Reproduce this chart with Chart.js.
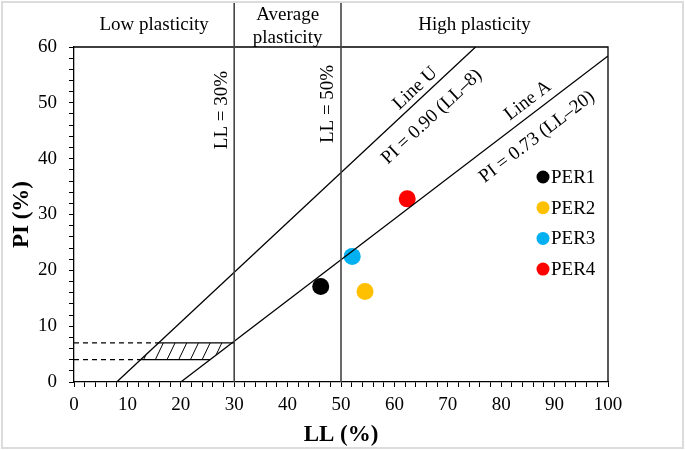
<!DOCTYPE html>
<html>
<head>
<meta charset="UTF-8">
<title>Plasticity chart</title>
<script src="https://cdn.jsdelivr.net/npm/chart.js"></script>
<style>
  body { margin: 0; background: #fff; }
  .chartBox { width: 685px; height: 450px; position: relative; }
</style>
</head>
<body>
<div class="chartBox">
  <canvas id="myChart" width="685" height="450"></canvas>
</div>
<script>
// ---------------- data ----------------
const samples = ['PER1', 'PER2', 'PER3', 'PER4'];
const sampleLL = [46.2, 54.5, 52.1, 62.4];
const samplePI = [17.1, 16.2, 22.5, 32.8];
const sampleColors = ['#000000', '#ffc000', '#00b0f0', '#ff0000'];

// Casagrande lines (end points)
const lineU_LL = [8, 75.2];
const lineU_PI = [0, 60];
const lineA_LL = [20, 100];
const lineA_PI = [0, 58.4];

// CL-ML band (PI 4 - 7)
const bandU_LL = [12.4, 15.8];   // where U line crosses PI 4 / 7
const bandA_LL = [25.5, 30];     // right end of the band lines
const bandA_LLtrue = [25.5, 29.6];

const limitLL = [30, 50];
const zoneNames = [['Low plasticity'], ['Average', 'plasticity'], ['High plasticity']];
const zoneCenterLL = [15, 40, 75];

const xTicks = [0, 10, 20, 30, 40, 50, 60, 70, 80, 90, 100];
const yTicks = [0, 10, 20, 30, 40, 50, 60];

const serif = "'Liberation Serif', 'Times New Roman', serif";

function seg(xs, ys) {
  return xs.map((x, i) => ({ x: x, y: ys[i] }));
}

const lineStyle = { showLine: true, borderColor: '#000', borderWidth: 1.3, pointRadius: 0, fill: false };

const datasets = [
  Object.assign({ label: 'U', data: seg(lineU_LL, lineU_PI) }, lineStyle),
  Object.assign({ label: 'A', data: seg(lineA_LL, lineA_PI) }, lineStyle),
  Object.assign({ label: 'b4', data: seg([bandU_LL[0], bandA_LL[0]], [4, 4]) }, lineStyle),
  Object.assign({ label: 'b7', data: seg([bandU_LL[1], bandA_LL[1]], [7, 7]) }, lineStyle),
  Object.assign({ label: 'd4', data: seg([0, bandU_LL[0]], [4, 4]), borderDash: [5, 4] }, lineStyle),
  Object.assign({ label: 'd7', data: seg([0, bandU_LL[1]], [7, 7]), borderDash: [5, 4] }, lineStyle)
];
samples.forEach((s, i) => {
  datasets.push({
    label: s,
    data: [{ x: sampleLL[i], y: samplePI[i] }],
    pointRadius: 8.5,
    pointHoverRadius: 8.5,
    backgroundColor: sampleColors[i],
    borderColor: sampleColors[i],
    borderWidth: 0
  });
});

// ---------------- extras plugin ----------------
const extras = {
  id: 'extras',
  beforeDatasetsDraw(chart) {
    const ctx = chart.ctx, x = chart.scales.x, y = chart.scales.y;
    // hatch the band between U and A lines
    ctx.save();
    ctx.beginPath();
    ctx.moveTo(x.getPixelForValue(bandU_LL[0]), y.getPixelForValue(4));
    ctx.lineTo(x.getPixelForValue(bandA_LLtrue[0]), y.getPixelForValue(4));
    ctx.lineTo(x.getPixelForValue(bandA_LLtrue[1]), y.getPixelForValue(7));
    ctx.lineTo(x.getPixelForValue(bandU_LL[1]), y.getPixelForValue(7));
    ctx.closePath();
    ctx.clip();
    ctx.strokeStyle = '#000';
    ctx.lineWidth = 1;
    const yb = y.getPixelForValue(4), yt = y.getPixelForValue(7);
    const h = yb - yt;
    for (let px = x.getPixelForValue(bandU_LL[0]) - 20; px < x.getPixelForValue(bandA_LL[1]) + 5; px += 11.7) {
      ctx.beginPath();
      ctx.moveTo(px, yb);
      ctx.lineTo(px + h * 0.48, yt);
      ctx.stroke();
    }
    ctx.restore();
  },
  afterDatasetsDraw(chart) {
    const ctx = chart.ctx, x = chart.scales.x, y = chart.scales.y, a = chart.chartArea;
    ctx.save();
    // outer frame
    ctx.strokeStyle = '#dcdcdc';
    ctx.lineWidth = 2;
    ctx.strokeRect(2, 2, chart.width - 4, chart.height - 4);
    // plot frame top and right
    ctx.strokeStyle = '#000';
    ctx.lineWidth = 1.3;
    ctx.beginPath();
    ctx.moveTo(a.left, a.top);
    ctx.lineTo(a.right, a.top);
    ctx.lineTo(a.right, a.bottom);
    ctx.stroke();
    // LL limit lines, up into the header
    ctx.strokeStyle = '#444';
    ctx.lineWidth = 1.6;
    limitLL.forEach(v => {
      const px = x.getPixelForValue(v);
      ctx.beginPath();
      ctx.moveTo(px, 3);
      ctx.lineTo(px, a.bottom);
      ctx.stroke();
    });
    // header zone names
    ctx.fillStyle = '#000';
    ctx.font = '19px ' + serif;
    ctx.textAlign = 'center';
    ctx.textBaseline = 'middle';
    zoneNames.forEach((lines, i) => {
      const px = x.getPixelForValue(zoneCenterLL[i]);
      if (lines.length === 1) ctx.fillText(lines[0], px, 25);
      else { ctx.fillText(lines[0], px, 15); ctx.fillText(lines[1], px, 38); }
    });
    // rotated labels
    function rotText(txt, lx, ly, ang) {
      ctx.save();
      ctx.translate(x.getPixelForValue(lx), y.getPixelForValue(ly));
      ctx.rotate(ang);
      ctx.fillText(txt, 0, 0);
      ctx.restore();
    }
    function lineAngle(xs, ys) {
      const dx = x.getPixelForValue(xs[1]) - x.getPixelForValue(xs[0]);
      const dy = y.getPixelForValue(ys[1]) - y.getPixelForValue(ys[0]);
      return Math.atan2(dy, dx);
    }
    rotText('LL = 30%', 27.7, 48.7, -Math.PI / 2);
    rotText('LL = 50%', 47.6, 49.8, -Math.PI / 2);
    const angU = lineAngle(lineU_LL, lineU_PI);
    const angA = lineAngle(lineA_LL, lineA_PI);
    rotText('Line U', 63.9, 52.6, angU);
    rotText('PI = 0.90 (LL\u20138)', 67.0, 47.5, angU);
    rotText('Line A', 85.0, 50.4, angA);
    rotText('PI = 0.73 (LL\u201320)', 86.7, 43.9, angA);
    // legend inside plot
    ctx.textAlign = 'left';
    ctx.font = '19px ' + serif;
    samples.forEach((s, i) => {
      const cy = 177 + i * 30.7;
      ctx.fillStyle = sampleColors[i];
      ctx.beginPath();
      ctx.arc(543, cy, 6.5, 0, Math.PI * 2);
      ctx.fill();
      ctx.fillStyle = '#000';
      ctx.fillText(s, 551, cy + 1);
    });
    ctx.restore();
  }
};

// ---------------- chart ----------------
const tickLbl = (list) => (v) => list.includes(v) ? String(v) : '';

const config = {
  type: 'scatter',
  data: { datasets },
  options: {
    responsive: false,
    animation: false,
    events: [],
    layout: { padding: { left: 0, top: 47, right: 77, bottom: 0 } },
    plugins: { legend: { display: false }, tooltip: { enabled: false } },
    scales: {
      x: {
        type: 'linear', min: 0, max: 100,
        afterFit: s => { s.height = 68; },
        afterBuildTicks: s => { s.ticks = []; for (let v = 0; v <= 100; v += 2) s.ticks.push({ value: v }); },
        ticks: { autoSkip: false, callback: tickLbl(xTicks), color: '#000', font: { family: serif, size: 19 }, maxRotation: 0, padding: 7 },
        grid: { drawOnChartArea: false, drawTicks: true, tickLength: 5, color: '#000', tickColor: '#000' },
        border: { color: '#000', width: 1.3 },
        title: { display: true, text: 'LL (%)', color: '#000', font: { family: serif, size: 23, weight: 'bold' }, padding: { top: 0, bottom: 1 } }
      },
      y: {
        type: 'linear', min: 0, max: 60,
        afterFit: s => { s.width = 74; },
        afterBuildTicks: s => { s.ticks = []; for (let v = 0; v <= 60; v += 2) s.ticks.push({ value: v }); },
        ticks: { autoSkip: false, callback: tickLbl(yTicks), color: '#000', font: { family: serif, size: 19 }, padding: 12 },
        grid: { drawOnChartArea: false, drawTicks: true, tickLength: 5, color: '#000', tickColor: '#000' },
        border: { color: '#000', width: 1.3 },
        title: { display: true, text: 'PI (%)', color: '#000', font: { family: serif, size: 23, weight: 'bold' }, padding: { top: 8, bottom: 0 } }
      }
    }
  },
  plugins: [extras]
};

const myChart = new Chart(document.getElementById('myChart').getContext('2d'), config);
</script>
</body>
</html>
